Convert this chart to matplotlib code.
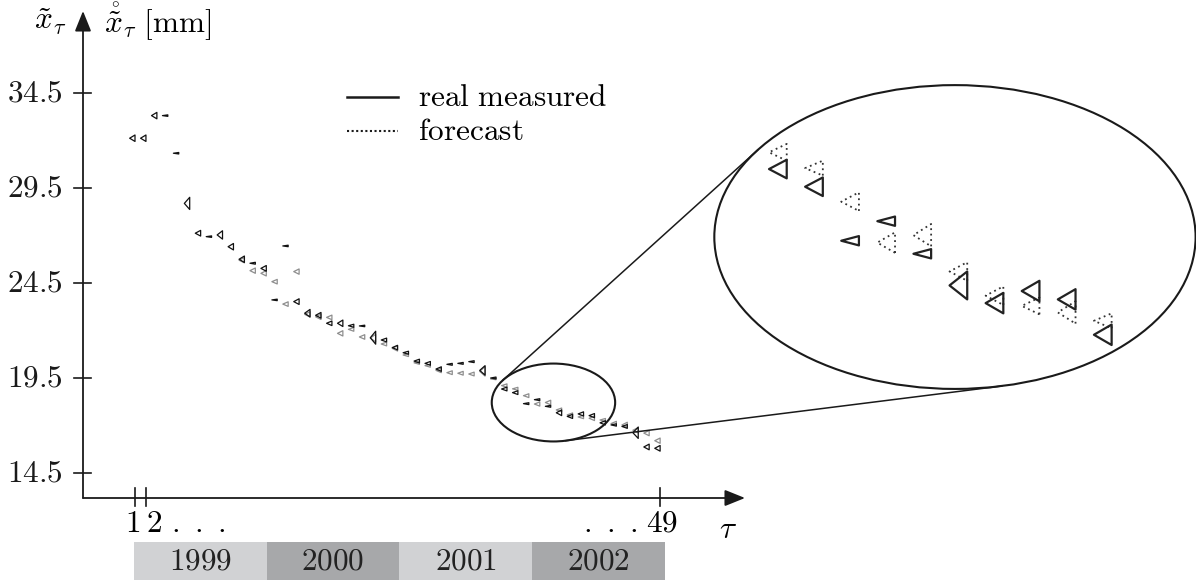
import numpy as np
import matplotlib.pyplot as plt
from matplotlib.patches import Ellipse, Rectangle
from matplotlib.collections import PolyCollection

plt.rcParams['mathtext.fontset'] = 'cm'

# monthly steps tau = 1 .. 49
tau = np.arange(1, 50)

# real measured values [mm]
real = np.array([
    32.12, 32.12, 33.31, 33.31, 31.33, 28.69, 27.12, 26.94, 27.03, 26.41,
    25.75, 25.54, 25.27, 23.61, 26.45, 23.52, 22.91, 22.80, 22.38, 22.38,
    22.25, 22.24, 21.62, 21.50, 21.10, 20.83, 20.39, 20.27, 19.97, 20.22,
    20.27, 20.36, 19.90, 19.50, 18.92, 18.73, 18.15, 18.36, 18.01, 17.67,
    17.48, 17.61, 17.52, 17.14, 17.03, 16.95, 16.62, 15.87, 15.80])

# half spread of each real value [mm]
real_half = np.array([
    0.17, 0.17, 0.17, 0.04, 0.04, 0.32, 0.15, 0.04, 0.22, 0.17,
    0.17, 0.05, 0.15, 0.04, 0.04, 0.15, 0.20, 0.15, 0.12, 0.17,
    0.08, 0.04, 0.34, 0.10, 0.12, 0.08, 0.10, 0.10, 0.12, 0.05,
    0.05, 0.05, 0.25, 0.05, 0.10, 0.10, 0.05, 0.05, 0.05, 0.15,
    0.11, 0.11, 0.11, 0.11, 0.06, 0.10, 0.30, 0.15, 0.15])

# forecast values [mm] (no forecast for the first ten steps)
nan = np.nan
forecast = np.array([
    nan, nan, nan, nan, nan, nan, nan, nan, nan, nan,
    25.70, 25.15, 25.01, 24.57, 23.39, 25.10, 22.85, 22.72, 22.69, 21.85,
    22.06, 21.66, 21.60, 21.29, 21.06, 20.71, 20.30, 20.15, 19.90, 19.78,
    19.75, 19.71, 19.85, 19.45, 19.10, 18.93, 18.57, 18.13, 18.21, 17.82,
    17.56, 17.45, 17.38, 17.29, 17.10, 17.03, 16.75, 16.60, 16.20])

forecast_half = np.array([
    nan, nan, nan, nan, nan, nan, nan, nan, nan, nan,
    0.14, 0.14, 0.14, 0.12, 0.12, 0.14, 0.14, 0.14, 0.12, 0.14,
    0.10, 0.12, 0.20, 0.10, 0.14, 0.08, 0.08, 0.08, 0.12, 0.10,
    0.10, 0.10, 0.25, 0.04, 0.09, 0.08, 0.10, 0.11, 0.12, 0.10,
    0.10, 0.09, 0.12, 0.08, 0.12, 0.14, 0.14, 0.14, 0.14])

years = ['1999', '2000', '2001', '2002']
yticks = [14.5, 19.5, 24.5, 29.5, 34.5]
yticklabels = ['14.5', '19.5', '24.5', '29.5', '34.5']

# drawing geometry
W, H = 1196, 580
PX_TAU, PX_MM = 10.94, 19.0
TRI_W = 0.49                      # triangle width in tau units
SMALL_C = np.array([39.25, 18.21])
SMALL_AX = np.array([5.64, 2.05])
BIG_C = np.array([75.95, 26.92])
MAG = 3.9
BIG_AX = MAG * SMALL_AX
FOCUS = np.array([39.66, 18.19])
GX, GY = 3.30, 4.9
ZOOMED = (tau >= 35) & (tau <= 44)
FS = 22.5


def px2data(x, y):
    return 1 + (x - 135) / PX_TAU, 34.5 - (y - 93) / PX_MM


def triangles(t, v, half, width):
    polys = []
    for ti, vi, hi in zip(t, v, half):
        if np.isnan(vi):
            continue
        polys.append([(ti, vi - hi), (ti, vi + hi), (ti - width, vi)])
    return polys


fig = plt.figure(figsize=(W / 100, H / 100), dpi=100)
ax = fig.add_axes([0, 0, 1, 1])
x0, y1 = px2data(0, 0)
x1, y0 = px2data(W, H)
ax.set_xlim(x0, x1)
ax.set_ylim(y0, y1)
ax.axis('off')

# axes with arrow heads
ax_x, ax_y = px2data(83, 498)
tip_x, _ = px2data(745, 498)
_, tip_y = px2data(83, 11)
arrow = dict(arrowstyle='-|>,head_length=0.62,head_width=0.25', lw=1.3,
             color='#1a1a1a', shrinkA=0, shrinkB=0, mutation_scale=20)
ax.annotate('', xy=(tip_x, ax_y), xytext=(ax_x, ax_y), arrowprops=arrow)
ax.annotate('', xy=(ax_x, tip_y), xytext=(ax_x, ax_y), arrowprops=arrow)

# y ticks
tl, _ = px2data(74, 0)
tr, _ = px2data(91, 0)
lab_x, _ = px2data(63, 0)
for v, s in zip(yticks, yticklabels):
    ax.plot([tl, tr], [v, v], color='#1a1a1a', lw=1.2)
    ax.text(lab_x, v, '$' + s + '$', ha='right', va='center', fontsize=FS,
            color='#1a1a1a')

# x ticks
_, tb = px2data(0, 506)
_, tt = px2data(0, 488)
for t in (1, 2, 49):
    ax.plot([t, t], [tb, tt], color='#1a1a1a', lw=1.2)
_, lab_y = px2data(0, 523)
ax.text(0.75, lab_y, '$1$', ha='center', va='center', fontsize=FS)
ax.text(2.75, lab_y, '$2$', ha='center', va='center', fontsize=FS)
ax.text(6.8, lab_y, r'$.\ .\ .$', ha='center', va='center', fontsize=FS)
ax.text(44.4, lab_y, r'$.\ .\ .$', ha='center', va='center', fontsize=FS)
ax.text(49.2, lab_y, '$49$', ha='center', va='center', fontsize=FS)
tx, ty = px2data(728, 530)
ax.text(tx, ty, r'$\tau$', ha='center', va='center', fontsize=FS)

# y axis labels
lx, ly = px2data(50, 22)
ax.text(lx, ly, r'$\tilde{x}_\tau$', ha='center', va='center', fontsize=FS)
lx, ly = px2data(104, 22)
ax.text(lx, ly, r'$\mathring{\tilde{x}}_\tau\ [\mathrm{mm}]$', ha='left',
        va='center', fontsize=FS)

# year bands under the axis
edges = np.linspace(0.88, 49.45, len(years) + 1)
_, band_top = px2data(0, 542)
for i, yr in enumerate(years):
    col = '#d1d2d4' if i % 2 == 0 else '#a7a8aa'
    ax.add_patch(Rectangle((edges[i], y0), edges[i + 1] - edges[i],
                           band_top - y0, color=col, lw=0))
    ax.text((edges[i] + edges[i + 1]) / 2, (band_top + y0) / 2,
            '$' + yr + '$', ha='center', va='center', fontsize=FS,
            color='#222222')

# legend
lx0, ly_r = px2data(347, 97)
lx1, ly_f = px2data(398, 131)
ax.plot([lx0, lx1], [ly_r, ly_r], color='#1a1a1a', lw=1.8)
ax.plot([lx0, lx1], [ly_f, ly_f], color='#1a1a1a', lw=1.5, ls=(0, (1, 1.2)))
txt_x, _ = px2data(418, 0)
ax.text(txt_x, ly_r, r'$\mathrm{real\ measured}$', ha='left', va='center',
        fontsize=FS)
ax.text(txt_x, ly_f, r'$\mathrm{forecast}$', ha='left', va='center',
        fontsize=FS)

# main series
ax.add_collection(PolyCollection(
    triangles(tau, forecast, forecast_half, TRI_W),
    facecolors='none', edgecolors='#8e8e8e', linewidths=0.9))
ax.add_collection(PolyCollection(
    triangles(tau, real, real_half, TRI_W),
    facecolors='none', edgecolors='#111111', linewidths=0.9))

# zoom ellipses and the tangents joining them
ax.add_patch(Ellipse(SMALL_C, 2 * SMALL_AX[0], 2 * SMALL_AX[1], fill=False,
                     lw=1.5, color='#1a1a1a'))
ax.add_patch(Ellipse(BIG_C, 2 * BIG_AX[0], 2 * BIG_AX[1], fill=False,
                     lw=1.5, color='#1a1a1a'))
hc = (MAG * SMALL_C - BIG_C) / (MAG - 1)
u = (hc - SMALL_C) / SMALL_AX
base = np.arctan2(u[1], u[0])
d = np.arccos(1 / np.hypot(u[0], u[1]))
for phi in (base + d, base - d):
    e = np.array([np.cos(phi), np.sin(phi)])
    p1 = SMALL_C + SMALL_AX * e
    p2 = BIG_C + BIG_AX * e
    ax.plot([p1[0], p2[0]], [p1[1], p2[1]], color='#1a1a1a', lw=1.1)

# magnified detail
zt = BIG_C[0] + GX * (tau[ZOOMED] - FOCUS[0])
zf = BIG_C[1] + GY * (forecast[ZOOMED] - FOCUS[1])
zr = BIG_C[1] + GY * (real[ZOOMED] - FOCUS[1])
ax.add_collection(PolyCollection(
    triangles(zt, zf, GY * forecast_half[ZOOMED], GX * TRI_W),
    facecolors='none', edgecolors='#333333', linewidths=1.3,
    linestyles=[(0, (1, 2))]))
ax.add_collection(PolyCollection(
    triangles(zt, zr, GY * real_half[ZOOMED], GX * TRI_W),
    facecolors='none', edgecolors='#222222', linewidths=1.6))

fig.savefig('out.png', dpi=100)
